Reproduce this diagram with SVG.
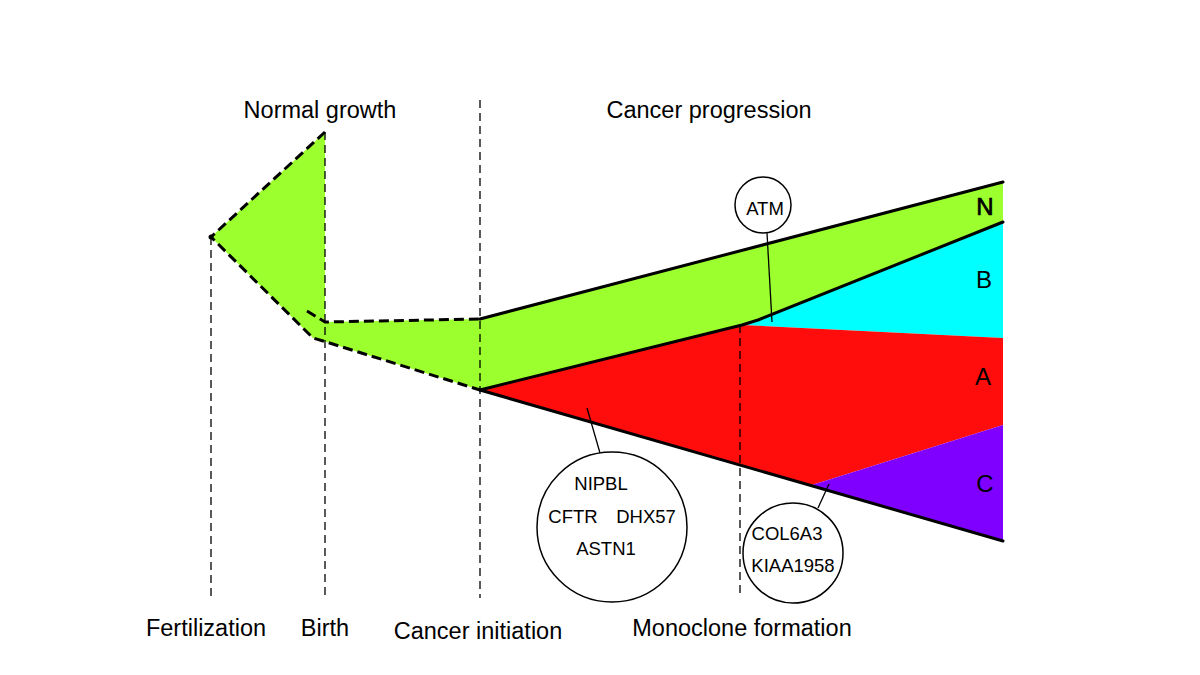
<svg xmlns="http://www.w3.org/2000/svg" width="1200" height="675" viewBox="0 0 1200 675">
<style>
.lbl{font-family:"Liberation Sans",Arial,sans-serif;font-size:23.5px;fill:#000;text-anchor:middle}
.gene{font-family:"Liberation Sans",Arial,sans-serif;font-size:18.5px;fill:#000;text-anchor:middle}
.clone{font-family:"Liberation Sans",Arial,sans-serif;font-size:24px;fill:#000;text-anchor:middle}
.vdash{stroke:#000;stroke-width:1.3;stroke-dasharray:8 5;fill:none}
.tdash{stroke:#000;stroke-width:3;stroke-dasharray:10 5;fill:none;stroke-linejoin:round}
.solid{stroke:#000;stroke-width:3;fill:none;stroke-linecap:round;stroke-linejoin:round}
.bubble{fill:#fff;stroke:#000;stroke-width:1.5}
.lead{stroke:#000;stroke-width:1.3;fill:none}
</style>
<rect width="1200" height="675" fill="#fff"/>
<g id="regions">
<polygon id="normal-green" points="211,237 325,132 325,322 480,319 480,390 323,341 313,338" fill="#9cff2e"/>
<polygon id="clone-N" points="480,319 1003,182 1003,222 758,320 742,325 480,390" fill="#9cff2e"/>
<polygon id="clone-B" points="742,325 758,320 1003,222 1003,338" fill="#00ffff"/>
<polygon id="clone-A" points="480,390 742,325 1003,338 1003,425 812,485" fill="#ff0d0d"/>
<polygon id="clone-C" points="812,485 1003,425 1003,541" fill="#8000ff"/>
</g>
<g id="connectors">
<line class="vdash" x1="211" y1="237" x2="211" y2="598"/>
<line class="vdash" x1="325" y1="132" x2="325" y2="598"/>
<line class="vdash" x1="480" y1="100" x2="480" y2="598"/>
<line class="vdash" x1="740" y1="325" x2="740" y2="598"/>
<polyline class="tdash" points="325,132 211,237 313,338 323,341 480,390"/>
<polyline class="tdash" points="307,311 325,322 480,319"/>
<line class="solid" x1="480" y1="319" x2="1003" y2="182"/>
<polyline class="solid" points="480,390 742,325 758,320 1003,222"/>
<line class="solid" x1="480" y1="390" x2="1003" y2="541"/>
<circle cx="211" cy="237" r="2.5" fill="#000"/>
<line class="lead" x1="767" y1="233" x2="772" y2="322"/>
<line class="lead" x1="587" y1="408" x2="600" y2="453"/>
<line class="lead" x1="829" y1="484" x2="818" y2="508"/>
</g>
<g id="node-ATM">
<circle class="bubble" cx="763" cy="205" r="28"/>
<text class="gene" x="765" y="215">ATM</text>
</g>
<g id="node-NIPBL">
<circle class="bubble" cx="612" cy="527" r="75"/>
<text class="gene" x="601" y="490">NIPBL</text>
<text class="gene" x="573" y="523">CFTR</text>
<text class="gene" x="646" y="523">DHX57</text>
<text class="gene" x="606" y="555">ASTN1</text>
</g>
<g id="node-COL6A3">
<circle class="bubble" cx="793" cy="553" r="50"/>
<text class="gene" x="787" y="540">COL6A3</text>
<text class="gene" x="793" y="572">KIAA1958</text>
</g>
<g id="clone-labels">
<text class="clone" x="985" y="215" style="stroke:#000;stroke-width:0.7">N</text>
<text class="clone" x="984" y="288">B</text>
<text class="clone" x="983" y="385">A</text>
<text class="clone" x="985" y="492">C</text>
</g>
<g id="labels">
<text class="lbl" x="320" y="118">Normal growth</text>
<text class="lbl" x="709" y="118">Cancer progression</text>
<text class="lbl" x="206" y="636">Fertilization</text>
<text class="lbl" x="325" y="636">Birth</text>
<text class="lbl" x="478" y="639">Cancer initiation</text>
<text class="lbl" x="742" y="636">Monoclone formation</text>
</g>
</svg>
